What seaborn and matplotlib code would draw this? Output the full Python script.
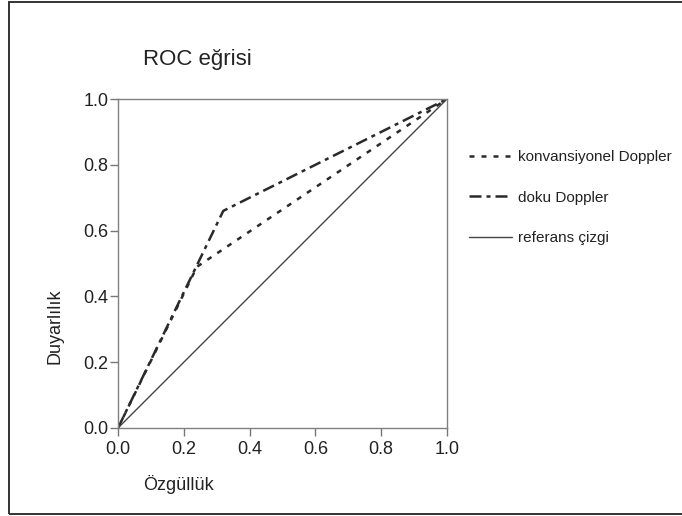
import matplotlib
matplotlib.use("Agg")
import matplotlib.pyplot as plt
import matplotlib.patches as mpatches
import seaborn as sns
import pandas as pd

# ---- data ----
conv_fpr = [0.0, 0.24, 1.0]
conv_tpr = [0.0, 0.49, 1.0]
doku_fpr = [0.0, 0.32, 1.0]
doku_tpr = [0.0, 0.66, 1.0]
ref_fpr = [0.0, 1.0]
ref_tpr = [0.0, 1.0]
ticks = [0.0, 0.2, 0.4, 0.6, 0.8, 1.0]
tick_labels = ["0.0", "0.2", "0.4", "0.6", "0.8", "1.0"]
series_labels = ["konvansiyonel Doppler", "doku Doppler", "referans çizgi"]
title_text = "ROC eğrisi"
xlabel_text = "Özgüllük"
ylabel_text = "Duyarlılık"

sns.set_theme(style="white")
plt.rcParams['font.family'] = ['Liberation Sans Narrow', 'Liberation Sans', 'DejaVu Sans']

txt = "#222222"
W, H = 682, 516
fig = plt.figure(figsize=(W / 100, H / 100), dpi=100)
ax = fig.add_axes([118 / W, 1 - 428 / H, (447 - 118) / W, (428 - 99) / H])

lw = 1.8
sns.lineplot(x=conv_fpr, y=conv_tpr, ax=ax, color="#2a2a2a", lw=lw,
             linestyle=(0, (2.0, 2.8)), label=series_labels[0], sort=False)
sns.lineplot(x=doku_fpr, y=doku_tpr, ax=ax, color="#2a2a2a", lw=lw,
             linestyle=(0, (4.8, 2.0, 1.6, 2.0)), label=series_labels[1], sort=False)
sns.lineplot(x=ref_fpr, y=ref_tpr, ax=ax, color="#444444", lw=1.0,
             label=series_labels[2], sort=False)

ax.set_xlim(0, 1)
ax.set_ylim(0, 1)
ax.set_xticks(ticks)
ax.set_xticklabels(tick_labels)
ax.set_yticks(ticks)
ax.set_yticklabels(tick_labels)
ax.tick_params(axis="both", direction="out", length=6, width=1.0, color="#777777",
               labelsize=13, labelcolor=txt, pad=1, left=True, bottom=True)
ax.tick_params(axis="x", pad=3)
for s in ax.spines.values():
    s.set_color("#808080")
    s.set_linewidth(1.0)
ax.set_xlabel("")
ax.set_ylabel("")

fig.text(143 / W, 1 - 60 / H, title_text, fontsize=16, color=txt, ha="left", va="center")
fig.text(178 / W, 1 - 484 / H, xlabel_text, fontsize=13, color=txt, ha="center", va="center")
fig.text(55 / W, 1 - 326 / H, ylabel_text, fontsize=13, color=txt, ha="center", va="center",
         rotation=90)

leg = ax.legend(loc="upper left", bbox_to_anchor=(469 / W, 1 - 150 / H),
                bbox_transform=fig.transFigure, frameon=False, fontsize=11,
                handlelength=2.8, handletextpad=0.4, labelspacing=1.75,
                borderpad=0, borderaxespad=0)
for t in leg.get_texts():
    t.set_color(txt)

rect = mpatches.Rectangle((8.5 / W, 1 - 514 / H), 1.2, (514 - 2) / H,
                          transform=fig.transFigure, fill=False, edgecolor="#333333",
                          linewidth=1.4, clip_on=False)
fig.patches.append(rect)

fig.savefig("out.png", dpi=100)
